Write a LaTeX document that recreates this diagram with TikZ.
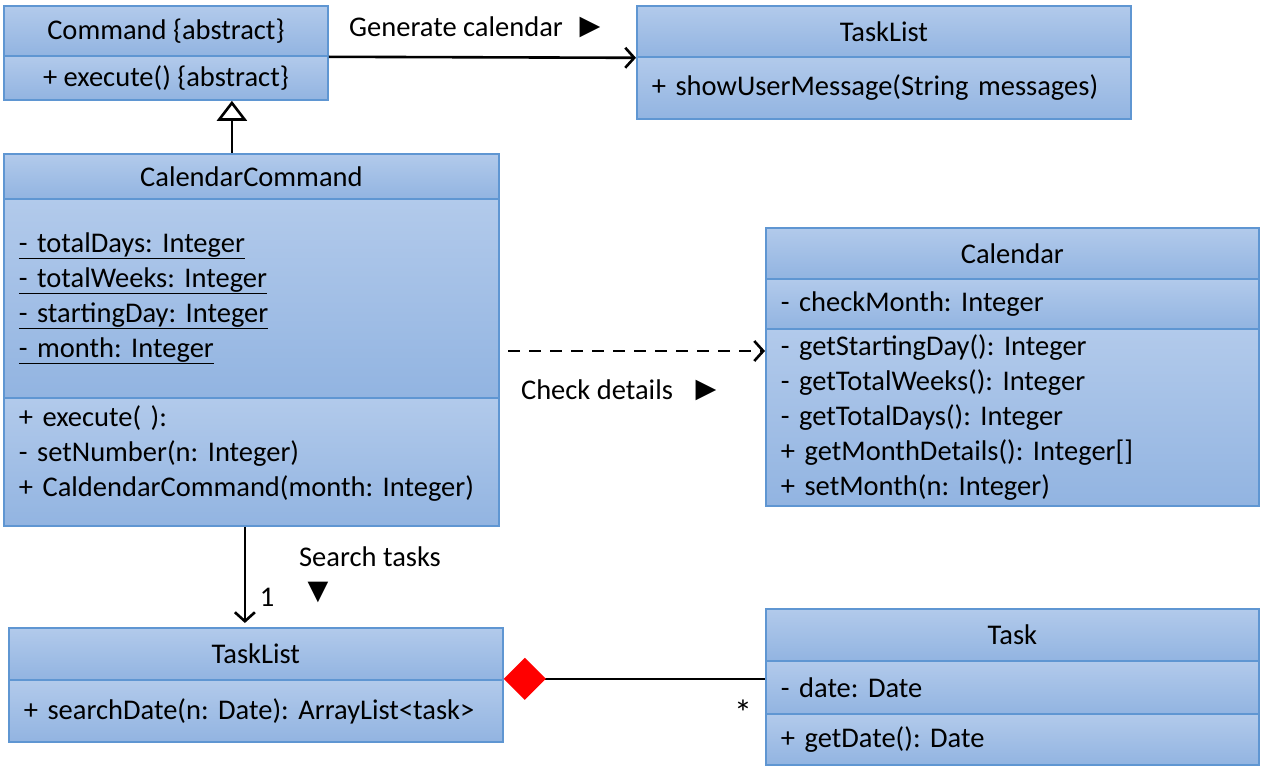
\documentclass[tikz,border=0pt]{standalone}
\usepackage{fontspec}
\setmainfont{Carlito}
\newfontfamily\symfont{DejaVu Sans}
\frenchspacing
\usetikzlibrary{arrows.meta}
\definecolor{umlTop}{RGB}{178,202,235}
\definecolor{umlBot}{RGB}{146,180,225}
\definecolor{umlLine}{RGB}{95,150,210}
\tikzset{
  part/.style={draw=umlLine, line width=1.8pt, top color=umlTop, bottom color=umlBot,
    anchor=north west, inner xsep=15pt, inner ysep=0pt, font=\fontsize{28.5}{35}\selectfont},
  head/.style 2 args={part, minimum width=#1, minimum height=#2},
  members/.style 2 args={part, text width=#1-30pt, minimum height=#2, align=left},
  lbl/.style={font=\fontsize{28.5}{35}\selectfont, inner sep=0pt},
  tri/.style={font=\symfont\fontsize{27}{30}\selectfont, inner sep=0pt},
  link/.style={line width=2.6pt, -{Straight Barb[length=9pt,width=20pt,line width=2.6pt]}},
}
\begin{document}
\begin{tikzpicture}[x=1pt,y=-1pt]
    \useasboundingbox (0,0) rectangle (1261,773);
    % Command
    \node[head={324pt}{50pt}] (cmdHead) at (3,5) {Command \{abstract\}};
    \node[head={324pt}{44pt}] (cmdOps) at (3,55) {+ execute() \{abstract\}};
    % TaskList (top)
    \node[head={494pt}{51pt}] (tlHead) at (636,5) {TaskList};
    \node[members={494pt}{62pt}] (tlOps) at (636,56) {+ showUserMessage(String messages)};
    % CalendarCommand
    \node[head={495pt}{45pt}] (ccHead) at (3,153) {CalendarCommand};
    \node[members={495pt}{199pt}] (ccAttrs) at (3,198) {\underline{- totalDays: Integer}\\
      \underline{- totalWeeks: Integer}\\ \underline{- startingDay: Integer}\\ \underline{- month: Integer}};
    \node[members={495pt}{128pt}] (ccOps) at (3,397) {+ execute( ):\\ - setNumber(n: Integer)\\
      + CaldendarCommand(month: Integer)\\[-13pt]\mbox{}};
    % Calendar
    \node[head={493pt}{51pt}] (calHead) at (765,227) {Calendar};
    \node[members={493pt}{50pt}] (calAttrs) at (765,278) {- checkMonth: Integer};
    \node[members={493pt}{177pt}] (calOps) at (765,328) {- getStartingDay(): Integer\\
      - getTotalWeeks(): Integer\\ - getTotalDays(): Integer\\ + getMonthDetails(): Integer[]\\
      + setMonth(n: Integer)};
    % TaskList (bottom)
    \node[head={494pt}{52pt}] (tlbHead) at (8,627) {TaskList};
    \node[members={494pt}{62pt}] (tlbOps) at (8,679) {+ searchDate(n: Date): ArrayList<task>};
    % Task
    \node[head={493pt}{52pt}] (taskHead) at (765,608) {Task};
    \node[members={493pt}{53pt}] (taskAttrs) at (765,660) {- date: Date};
    \node[members={493pt}{51pt}] (taskOps) at (765,713) {+ getDate(): Date};

    % connectors
    \draw[link] (cmdHead.south east) -- (tlHead.south west);
    \node[lbl] (genLbl) at (456,27) {Generate calendar};
    \node[tri] (genTri) at (590,27) {▶};

    \draw[line width=2.6pt, -{Triangle[open,length=20pt,width=30pt,line width=2.6pt]}]
      ([xshift=-19.5pt]ccHead.north) -- ([xshift=-19.5pt]ccHead.north |- cmdOps.south);

    \coordinate (chk) at (508,351);
    \draw[link, dashed, dash pattern=on 12pt off 9pt] (chk) -- (chk -| calOps.west);
    \node[lbl] (chkLbl) at (597,390) {Check details};
    \node[tri] (chkTri) at (706,390) {▶};

    \draw[link, shorten >=4pt] ([xshift=-6.5pt]ccOps.south) -- ([xshift=-6.5pt]ccOps.south |- tlbHead.north);
    \node[lbl] (srchLbl) at (370,557) {Search tasks};
    \node[tri] (srchTri) at (318,592) {▼};
    \node[lbl] (oneLbl) at (267,597) {1};

    \draw[line width=2.6pt, {Diamond[length=42pt,width=42pt,color=red,fill=red]}-]
      ([yshift=2pt]tlbHead.south east) -- ([yshift=2pt]tlbHead.south east -| taskHead.west);
    \node[lbl, font=\fontsize{36}{40}\selectfont] (manyLbl) at (743,713) {*};
\end{tikzpicture}
\end{document}
